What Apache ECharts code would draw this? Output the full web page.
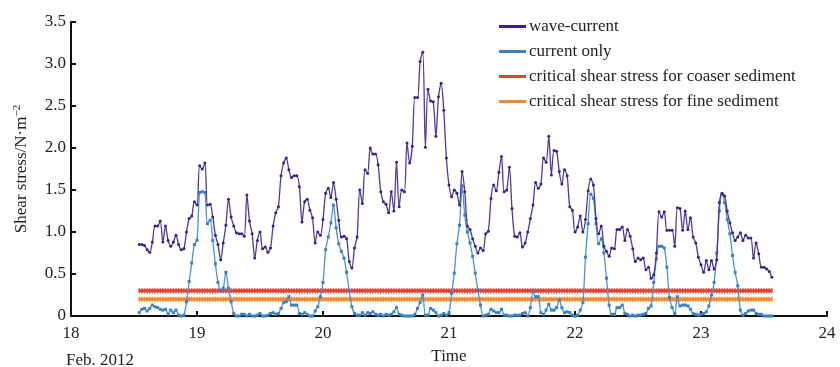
<!DOCTYPE html>
<html>
<head>
<meta charset="utf-8">
<script src="https://cdn.jsdelivr.net/npm/echarts@6/dist/echarts.min.js"></script>
<style>
  html, body { margin: 0; padding: 0; background: #fff; }
  #chart { width: 840px; height: 367px; }
</style>
</head>
<body>
<div id="chart"></div>
<script>
// half-hourly record, starting 18 Feb 13:00 (axis unit = day of Feb. 2012)
var startDay = 18 + 13 / 24;
var stepDay = 0.5 / 24;

// wave-current shear stress (N/m2)
var waveCurrent = [
  0.85, 0.85, 0.84, 0.79, 0.76, 0.88, 1.07, 1.07, 1.13, 0.88, 1.07, 0.90,
  0.83, 0.88, 0.96, 0.85, 0.79, 0.80, 1.00, 1.16, 1.19, 1.36, 1.32, 1.79,
  1.75, 1.82, 1.32, 1.33, 1.18, 0.96, 0.85, 0.67, 0.87, 1.08, 1.39, 1.18,
  1.07, 0.99, 0.98, 0.98, 0.95, 1.44, 1.13, 0.98, 0.69, 0.90, 1.00, 0.80,
  0.82, 0.76, 0.81, 1.07, 1.23, 1.30, 1.67, 1.82, 1.88, 1.74, 1.65, 1.67,
  1.67, 1.54, 1.12, 1.36, 1.39, 1.26, 1.17, 0.87, 1.00, 0.96, 1.15, 1.46,
  1.52, 1.41, 1.59, 1.39, 1.14, 0.94, 0.95, 0.92, 0.65, 0.57, 0.81, 0.94,
  1.50, 1.34, 1.74, 1.70, 2.00, 1.93, 1.93, 1.80, 1.48, 1.36, 1.33, 1.23,
  1.48, 1.25, 1.83, 1.30, 1.50, 1.48, 2.06, 1.82, 2.02, 2.60, 2.60, 3.03,
  3.14, 2.01, 2.70, 2.56, 2.55, 2.14, 2.61, 2.77, 2.45, 1.88, 1.56, 1.42,
  1.50, 1.46, 1.32, 1.72, 1.48, 1.07, 1.03, 0.92, 0.83, 0.75, 0.81, 0.78,
  0.98, 1.01, 1.40, 1.56, 1.49, 1.71, 1.90, 1.48, 1.50, 1.77, 1.28, 0.95,
  0.94, 0.99, 0.82, 0.87, 1.00, 1.16, 1.32, 1.59, 1.52, 1.57, 1.88, 1.83,
  2.14, 1.68, 1.97, 1.96, 1.72, 1.57, 1.74, 1.67, 1.30, 1.26, 1.00, 1.06,
  1.19, 1.00, 1.15, 1.49, 1.63, 1.56, 1.16, 0.98, 1.07, 0.83, 0.77, 0.71,
  0.81, 0.80, 1.03, 1.03, 1.06, 0.90, 1.03, 0.95, 0.80, 0.65, 0.69, 0.67,
  0.69, 0.55, 0.58, 0.45, 0.49, 0.75, 1.24, 1.18, 1.24, 1.02, 1.02, 1.02,
  0.83, 1.29, 1.28, 1.02, 1.25, 1.03, 1.17, 0.94, 0.87, 0.70, 0.61, 0.52,
  0.66, 0.55, 0.66, 0.56, 0.67, 1.35, 1.46, 1.43, 1.25, 1.11, 0.99, 0.90,
  0.94, 0.99, 0.90, 0.96, 0.93, 0.93, 0.69, 0.87, 0.74, 0.58, 0.58, 0.56,
  0.53, 0.46
];

// current only shear stress (N/m2)
var currentOnly = [
  0.04, 0.08, 0.09, 0.06, 0.09, 0.13, 0.11, 0.10, 0.08, 0.07, 0.08, 0.02,
  0.07, 0.04, 0.07, 0.01, 0.00, 0.01, 0.17, 0.41, 0.63, 0.85, 0.90, 1.47,
  1.48, 1.47, 1.10, 1.14, 0.90, 0.62, 0.40, 0.30, 0.33, 0.52, 0.33, 0.17,
  0.03, 0.00, 0.00, 0.02, 0.02, 0.00, 0.02, 0.00, 0.00, 0.01, 0.03, 0.00,
  0.00, 0.01, 0.03, 0.04, 0.02, 0.03, 0.09, 0.16, 0.17, 0.23, 0.13, 0.13,
  0.13, 0.03, 0.02, 0.04, 0.02, 0.00, 0.00, 0.06, 0.11, 0.23, 0.40, 0.79,
  0.94, 1.11, 1.32, 1.05, 0.86, 0.77, 0.69, 0.52, 0.30, 0.11, 0.03, 0.01,
  0.01, 0.04, 0.01, 0.04, 0.03, 0.05, 0.02, 0.01, 0.02, 0.00, 0.02, 0.01,
  0.02, 0.05, 0.10, 0.02, 0.01, 0.00, 0.00, 0.00, 0.00, 0.02, 0.09, 0.16,
  0.25, 0.01, 0.01, 0.09, 0.07, 0.04, 0.00, 0.01, 0.03, 0.01, 0.04, 0.27,
  0.51, 0.86, 1.08, 1.55, 1.20, 1.00, 0.87, 0.71, 0.51, 0.31, 0.13, 0.00,
  0.01, 0.02, 0.08, 0.06, 0.04, 0.04, 0.08, 0.01, 0.01, 0.00, 0.00, 0.01,
  0.01, 0.01, 0.03, 0.04, 0.00, 0.10, 0.29, 0.23, 0.23, 0.04, 0.02, 0.07,
  0.14, 0.07, 0.07, 0.10, 0.19, 0.10, 0.04, 0.05, 0.04, 0.01, 0.00, 0.01,
  0.07, 0.16, 0.70, 1.10, 1.45, 1.40, 1.10, 0.86, 0.92, 0.75, 0.45, 0.13,
  0.02, 0.02, 0.10, 0.10, 0.13, 0.03, 0.02, 0.00, 0.01, 0.00, 0.01, 0.01,
  0.02, 0.03, 0.09, 0.12, 0.40, 0.68, 0.83, 0.83, 0.81, 0.58, 0.22, 0.10,
  0.03, 0.23, 0.12, 0.13, 0.13, 0.12, 0.08, 0.03, 0.02, 0.01, 0.02, 0.03,
  0.05, 0.12, 0.25, 0.40, 0.75, 1.25, 1.45, 1.35, 1.15, 0.98, 0.72, 0.52,
  0.36, 0.07, 0.01, 0.03, 0.06, 0.07, 0.07, 0.03, 0.02, 0.02, 0.00, 0.00,
  0.00, 0.00
];

// critical shear stress thresholds (N/m2)
var criticalCoarse = 0.3;
var criticalFine = 0.2;

var seriesNames = ['wave-current', 'current only',
  'critical shear stress for coaser sediment', 'critical shear stress for fine sediment'];

var times = [];
for (var i = 0; i < waveCurrent.length; i++) {
  times.push(startDay + i * stepDay);
}

function pairs(vals) {
  return times.map(function (t, i) { return [t, vals[i]]; });
}
function flat(v) {
  return times.map(function (t) { return [t, v]; });
}

var serif = 'Liberation Serif, Times New Roman, serif';
var ink = '#222';
var chart = echarts.init(document.getElementById('chart'));

var option = {
  animation: false,
  textStyle: { fontFamily: serif },
  grid: { left: 71, right: 13, top: 22, bottom: 51, containLabel: false, outerBoundsMode: 'none' },
  title: {
    text: 'Feb. 2012',
    left: 61, top: 347,
    textStyle: { fontFamily: serif, fontSize: 17, fontWeight: 'normal', color: ink }
  },
  legend: {
    orient: 'vertical',
    left: 494, top: 13,
    icon: 'rect',
    itemWidth: 27, itemHeight: 3, itemGap: 8,
    data: seriesNames,
    textStyle: { fontFamily: serif, fontSize: 17, color: ink, padding: [0, 0, 0, -2] }
  },
  xAxis: {
    type: 'value',
    min: 18, max: 24, interval: 1,
    name: 'Time',
    nameLocation: 'middle',
    nameGap: 32,
    nameTextStyle: { fontFamily: serif, fontSize: 17, color: ink },
    axisLine: { lineStyle: { color: '#111', width: 2 } },
    axisTick: { inside: true, length: 5, lineStyle: { color: '#111', width: 2 } },
    axisLabel: { fontFamily: serif, fontSize: 17, color: ink, margin: 9 },
    splitLine: { show: false }
  },
  yAxis: {
    type: 'value',
    min: 0, max: 3.5, interval: 0.5,
    name: 'Shear stress/N·m{sup|−2}',
    nameLocation: 'middle',
    nameGap: 40,
    nameTextStyle: {
      fontFamily: serif, fontSize: 17, color: ink,
      rich: { sup: { fontFamily: serif, fontSize: 11, color: ink, verticalAlign: 'top', padding: [0, 0, 8, 0] } }
    },
    axisLine: { show: true, lineStyle: { color: '#111', width: 2 } },
    axisTick: { show: true, inside: true, length: 5, lineStyle: { color: '#111', width: 2 } },
    axisLabel: {
      fontFamily: serif, fontSize: 17, color: ink, margin: 5,
      formatter: function (v) { return v === 0 ? '0' : v.toFixed(1); }
    },
    splitLine: { show: false }
  },
  series: [
    {
      name: seriesNames[2],
      type: 'line',
      data: flat(criticalCoarse),
      symbol: 'rect', symbolSize: [1.5, 5],
      lineStyle: { color: '#e8402e', width: 3 },
      itemStyle: { color: '#e8402e' },
      z: 2
    },
    {
      name: seriesNames[3],
      type: 'line',
      data: flat(criticalFine),
      symbol: 'rect', symbolSize: [1.5, 5],
      lineStyle: { color: '#f28a30', width: 3 },
      itemStyle: { color: '#f28a30' },
      z: 2
    },
    {
      name: seriesNames[1],
      type: 'line',
      data: pairs(currentOnly),
      smooth: 0.3,
      symbol: 'rect', symbolSize: 3,
      lineStyle: { color: '#4a93d2', width: 1.3 },
      itemStyle: { color: '#3a80c4' },
      z: 3
    },
    {
      name: seriesNames[0],
      type: 'line',
      data: pairs(waveCurrent),
      smooth: 0.3,
      symbol: 'circle', symbolSize: 3,
      lineStyle: { color: '#4a3aa0', width: 1.3 },
      itemStyle: { color: '#34228e' },
      z: 4
    }
  ]
};
chart.setOption(option);
</script>
</body>
</html>
